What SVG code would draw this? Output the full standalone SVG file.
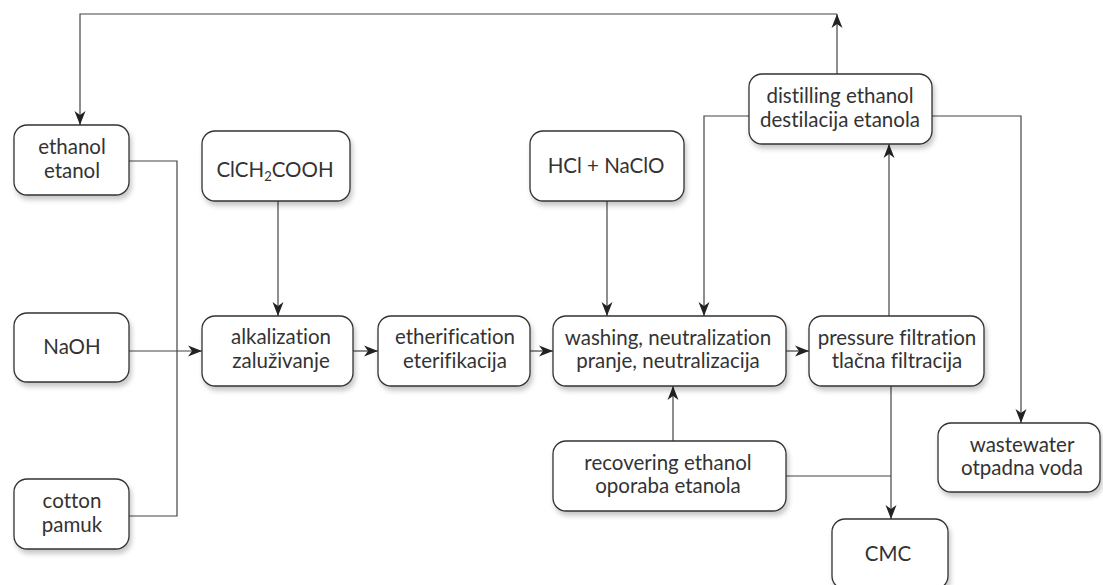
<svg xmlns="http://www.w3.org/2000/svg" width="1103" height="585" viewBox="0 0 1103 585">
<defs>
<style>
.box{fill:#fff;stroke:#333;stroke-width:1.3;filter:url(#sh)}
.t{font-family:Lato,"Liberation Sans",sans-serif;font-size:20.5px;fill:#333;text-anchor:middle;font-variant-ligatures:none;font-feature-settings:"liga" 0,"dlig" 0,"clig" 0}
.c{fill:none;stroke:#444;stroke-width:1.2}
.a{marker-end:url(#ar)}
</style>
<filter id="sh" x="-10%" y="-10%" width="130%" height="140%">
<feDropShadow dx="2" dy="4" stdDeviation="2.5" flood-color="#000" flood-opacity="0.22"/>
</filter>
<marker id="ar" viewBox="-15 -7 16 14" refX="0" refY="0" markerWidth="16" markerHeight="14" markerUnits="userSpaceOnUse" orient="auto">
<path d="M0,0 L-14,-5.5 L-10,0 L-14,5.5 Z" fill="#222"/>
</marker>
</defs>
<rect width="1103" height="585" fill="#fff"/>
<g id="connectors">
<path class="c a" d="M837,74 V14"/>
<path class="c a" d="M837,14 H80 V125"/>
<path class="c" d="M129,161 H177 V516 H129"/>
<path class="c a" d="M129,351 H202"/>
<path class="c a" d="M278,201 V316"/>
<path class="c a" d="M353,351 H378"/>
<path class="c a" d="M530,351 H553"/>
<path class="c a" d="M607,201 V316"/>
<path class="c a" d="M749,116 H704 V316"/>
<path class="c a" d="M932,116 H1021 V423"/>
<path class="c a" d="M786,351 H809"/>
<path class="c a" d="M889,316 V144"/>
<path class="c a" d="M891,386 V519"/>
<path class="c" d="M786,476 H891"/>
<path class="c a" d="M673,441 V386"/>
</g>
<g id="ethanol"><rect class="box" x="14" y="125" width="115" height="70" rx="13"/><text class="t" x="72" y="154">ethanol</text><text class="t" x="72" y="178">etanol</text></g>
<g id="naoh"><rect class="box" x="14" y="313" width="115" height="69" rx="13"/><text class="t" x="72" y="354">NaOH</text></g>
<g id="cotton"><rect class="box" x="14" y="479" width="115" height="70" rx="13"/><text class="t" x="72" y="508">cotton</text><text class="t" x="72" y="532">pamuk</text></g>
<g id="clch2cooh"><rect class="box" x="202" y="131" width="148" height="70" rx="13"/><text class="t" x="275" y="177">ClCH<tspan font-size="13" dy="4">2</tspan><tspan dy="-4">COOH</tspan></text></g>
<g id="alkalization"><rect class="box" x="202" y="316" width="151" height="70" rx="13"/><text class="t" x="281" y="344">alkalization</text><text class="t" x="281" y="368">zaluživanje</text></g>
<g id="etherification"><rect class="box" x="378" y="316" width="152" height="70" rx="13"/><text class="t" x="455" y="344">etherification</text><text class="t" x="455" y="368">eterifikacija</text></g>
<g id="hcl"><rect class="box" x="530" y="131" width="154" height="70" rx="13"/><text class="t" x="606" y="173">HCl + NaClO</text></g>
<g id="washing"><rect class="box" x="553" y="316" width="233" height="70" rx="13"/><text class="t" x="668" y="345">washing, neutralization</text><text class="t" x="668" y="368">pranje, neutralizacija</text></g>
<g id="pressure"><rect class="box" x="809" y="316" width="175" height="70" rx="13"/><text class="t" x="897" y="345">pressure filtration</text><text class="t" x="897" y="368">tlačna filtracija</text></g>
<g id="distilling"><rect class="box" x="749" y="74" width="183" height="70" rx="13"/><text class="t" x="840" y="103">distilling ethanol</text><text class="t" x="840" y="127">destilacija etanola</text></g>
<g id="recovering"><rect class="box" x="553" y="441" width="233" height="70" rx="13"/><text class="t" x="668" y="470">recovering ethanol</text><text class="t" x="668" y="493">oporaba etanola</text></g>
<g id="wastewater"><rect class="box" x="938" y="423" width="162" height="69" rx="13"/><text class="t" x="1022" y="452">wastewater</text><text class="t" x="1022" y="475">otpadna voda</text></g>
<g id="cmc"><rect class="box" x="832" y="519" width="116" height="70" rx="13"/><text class="t" x="888" y="561">CMC</text></g>
</svg>
